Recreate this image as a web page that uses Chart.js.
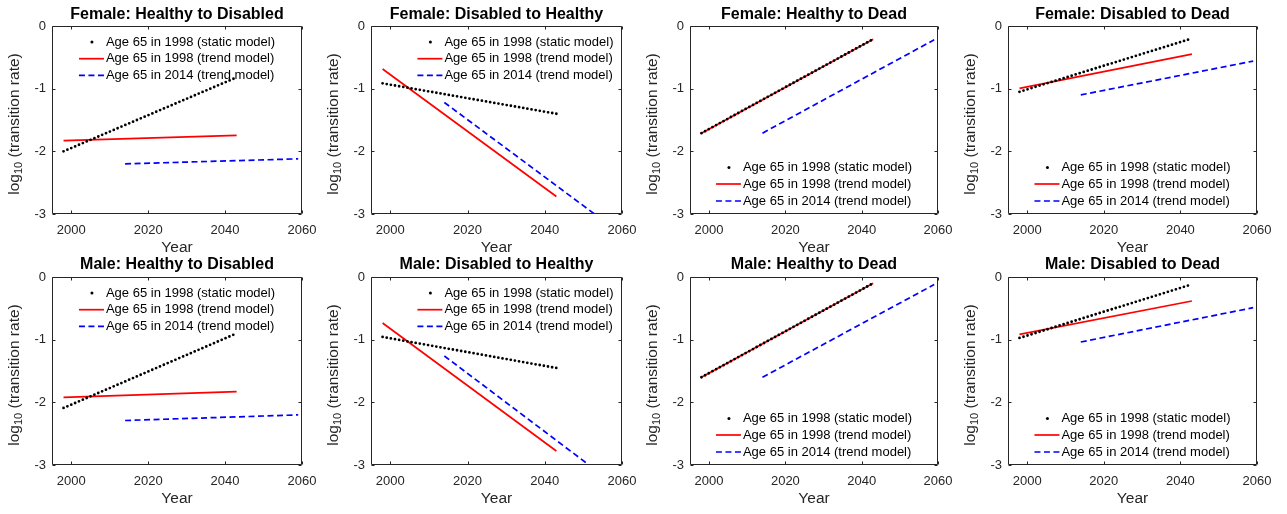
<!DOCTYPE html>
<html><head><meta charset="utf-8">
<script src="https://cdn.jsdelivr.net/npm/chart.js@4"></script>
<style>
html,body{margin:0;padding:0;background:#fff;}
body{width:1287px;height:514px;position:relative;overflow:hidden;}
canvas{position:absolute;}
</style></head><body>
<script>
// ---------------- data ----------------
const panelTitles = [
  'Female: Healthy to Disabled','Female: Disabled to Healthy','Female: Healthy to Dead','Female: Disabled to Dead',
  'Male: Healthy to Disabled','Male: Disabled to Healthy','Male: Healthy to Dead','Male: Disabled to Dead'
];
const seriesLabels = [
  'Age 65 in 1998 (static model)',
  'Age 65 in 1998 (trend model)',
  'Age 65 in 2014 (trend model)'
];
const staticYears = [1998, 2043];
const trend1998Years = [1998, 2043];
const trend2014Years = [2014, 2059];
// log10 transition rate at the start / end year of each series, per panel
const staticModel = [
  [-2.00, -0.82], [-0.915, -1.40], [-1.71, -0.21], [-1.05, -0.20],
  [-2.09, -0.90], [-0.957, -1.452], [-1.60, -0.10], [-0.973, -0.117]
];
const trend1998 = [
  [-1.83, -1.745], [-0.686, -2.72], [-1.71, -0.21], [-0.995, -0.45],
  [-1.92, -1.83], [-0.734, -2.776], [-1.60, -0.10], [-0.915, -0.383]
];
const trend2014 = [
  [-2.20, -2.12], [-1.22, -3.28], [-1.71, -0.22], [-1.10, -0.56],
  [-2.29, -2.20], [-1.26, -3.35], [-1.60, -0.12], [-1.037, -0.49]
];
const xTicks = [2000, 2020, 2040, 2060];
const yTicks = [0, -1, -2, -3];
const legendPlacement = ['north','northeast','south','south','north','northeast','south','south'];

// ---------------- layout / style ----------------
const FONT = '"Liberation Sans", Arial, Helvetica, sans-serif';
const AXIS_COLOR = '#262626';
const areaLeft = [52, 371, 690, 1008];
const areaRight = [302, 622, 938, 1257];
const rowTopLocal = [26, 20];
const rowBottomLocal = [214, 208];
const titleYLocal = [15, 8];
const CANVAS_H = 257;
const Y_AXIS_W = 52;
const RIGHT_PAD = 20;

function pts(years, vals) { return years.map((yr, k) => ({x: yr, y: vals[k]})); }

function makePlugin(i) {
  const row = Math.floor(i / 4);
  return {
    id: 'matlabDecor' + i,
    afterDatasetsDraw(chart) {
      const {ctx, chartArea: a, scales: {x, y}} = chart;
      ctx.save();
      ctx.strokeStyle = AXIS_COLOR;
      ctx.lineWidth = 1;
      const L = Math.round(a.left) + 0.5, R = Math.round(a.right) - 0.5;
      const T = Math.round(a.top) + 0.5, B = Math.round(a.bottom) - 0.5;
      ctx.beginPath();
      ctx.rect(L, T, R - L, B - T);
      xTicks.forEach(v => {
        const px = Math.round(x.getPixelForValue(v)) + 0.5;
        ctx.moveTo(px, B); ctx.lineTo(px, B - 3);
        ctx.moveTo(px, T); ctx.lineTo(px, T + 3);
      });
      yTicks.forEach(v => {
        const py = Math.round(y.getPixelForValue(v)) + 0.5;
        ctx.moveTo(L, py); ctx.lineTo(L + 3, py);
        ctx.moveTo(R, py); ctx.lineTo(R - 3, py);
      });
      ctx.stroke();
      ctx.restore();
    },
    afterDraw(chart) {
      const {ctx, chartArea: a} = chart;
      const cx = (a.left + a.right) / 2;
      ctx.save();
      // title
      ctx.fillStyle = '#000';
      ctx.font = 'bold 16px ' + FONT;
      ctx.textAlign = 'center';
      ctx.textBaseline = 'middle';
      ctx.fillText(panelTitles[i], cx, titleYLocal[row]);
      // x label
      ctx.fillStyle = AXIS_COLOR;
      ctx.font = '15.5px ' + FONT;
      ctx.fillText('Year', cx, a.bottom + 34);
      // y label with subscript
      const big = '15.5px ' + FONT, small = '11px ' + FONT;
      ctx.font = big; const w1 = ctx.measureText('log').width;
      const w3 = ctx.measureText(' (transition rate)').width;
      ctx.font = small; const w2 = ctx.measureText('10').width;
      const total = w1 + w2 + w3;
      ctx.translate(a.left - 33, (a.top + a.bottom) / 2 + 4);
      ctx.rotate(-Math.PI / 2);
      ctx.textAlign = 'left';
      ctx.textBaseline = 'alphabetic';
      let sx = -total / 2;
      ctx.font = big; ctx.fillText('log', sx, 0); sx += w1;
      ctx.font = small; ctx.fillText('10', sx, 3); sx += w2;
      ctx.font = big; ctx.fillText(' (transition rate)', sx, 0);
      ctx.restore();

      // legend
      ctx.save();
      ctx.font = '13px ' + FONT;
      const tw = Math.max(...seriesLabels.map(s => ctx.measureText(s).width));
      const lw = 27 + tw;
      let x0;
      if (legendPlacement[i] === 'northeast') x0 = a.right - 8.5 - lw;
      else x0 = cx - lw / 2;
      let rows;
      if (legendPlacement[i] === 'south') rows = [a.bottom - 46.5, a.bottom - 30, a.bottom - 13];
      else rows = [a.top + 16, a.top + 32.7, a.top + 49.4];
      // static marker
      ctx.fillStyle = '#000';
      ctx.beginPath(); ctx.arc(x0 + 13, rows[0], 1.5, 0, Math.PI * 2); ctx.fill();
      // red line
      ctx.strokeStyle = '#ff0000'; ctx.lineWidth = 1.7;
      ctx.beginPath(); ctx.moveTo(x0, rows[1]); ctx.lineTo(x0 + 25, rows[1]); ctx.stroke();
      // blue dashed
      ctx.strokeStyle = '#0000ff'; ctx.setLineDash([6, 3.5]);
      ctx.beginPath(); ctx.moveTo(x0, rows[2]); ctx.lineTo(x0 + 25, rows[2]); ctx.stroke();
      ctx.setLineDash([]);
      ctx.fillStyle = '#000';
      ctx.textAlign = 'left'; ctx.textBaseline = 'middle';
      seriesLabels.forEach((s, k) => ctx.fillText(s, x0 + 27, rows[k]));
      ctx.restore();
    }
  };
}

for (let i = 0; i < 8; i++) {
  const row = Math.floor(i / 4), col = i % 4;
  const aw = areaRight[col] - areaLeft[col];
  const cw = Y_AXIS_W + aw + RIGHT_PAD;
  const canvas = document.createElement('canvas');
  canvas.width = cw; canvas.height = CANVAS_H;
  canvas.style.left = (areaLeft[col] - Y_AXIS_W) + 'px';
  canvas.style.top = (row * CANVAS_H) + 'px';
  canvas.style.width = cw + 'px'; canvas.style.height = CANVAS_H + 'px';
  document.body.appendChild(canvas);
  const topL = rowTopLocal[row], botL = rowBottomLocal[row];
  new Chart(canvas, {
    type: 'line',
    data: {
      datasets: [
        { label: seriesLabels[0], data: pts(staticYears, staticModel[i]), borderColor: '#000', borderWidth: 2.8,
          borderDash: [0, 4.2], borderCapStyle: 'round', pointRadius: 0, fill: false },
        { label: seriesLabels[1], data: pts(trend1998Years, trend1998[i]), borderColor: '#ff0000', borderWidth: 1.7,
          pointRadius: 0, fill: false },
        { label: seriesLabels[2], data: pts(trend2014Years, trend2014[i]), borderColor: '#0000ff', borderWidth: 1.7,
          borderDash: [6, 3.5], pointRadius: 0, fill: false }
      ]
    },
    options: {
      responsive: false, animation: false, devicePixelRatio: 1,
      layout: { padding: { left: 0, right: RIGHT_PAD, top: topL, bottom: 0 } },
      plugins: { legend: { display: false }, title: { display: false }, tooltip: { enabled: false } },
      elements: { line: { tension: 0 } },
      scales: {
        x: {
          type: 'linear', min: 1995, max: 2060,
          afterBuildTicks: s => { s.ticks = xTicks.map(v => ({ value: v })); },
          afterFit: s => { s.height = CANVAS_H - botL; s.paddingLeft = 0; s.paddingRight = 0; },
          grid: { display: false, drawTicks: false },
          border: { display: false },
          ticks: { font: { family: FONT, size: 13 }, color: AXIS_COLOR, padding: 9, maxRotation: 0,
                   callback: v => String(v) }
        },
        y: {
          type: 'linear', min: -3, max: 0,
          afterBuildTicks: s => { s.ticks = yTicks.map(v => ({ value: v })); },
          afterFit: s => { s.width = Y_AXIS_W; s.paddingTop = 0; s.paddingBottom = 0; },
          grid: { display: false, drawTicks: false },
          border: { display: false },
          ticks: { font: { family: FONT, size: 13 }, color: AXIS_COLOR, padding: 6,
                   callback: v => String(v) }
        }
      }
    },
    plugins: [makePlugin(i)]
  });
}
</script>
</body></html>
